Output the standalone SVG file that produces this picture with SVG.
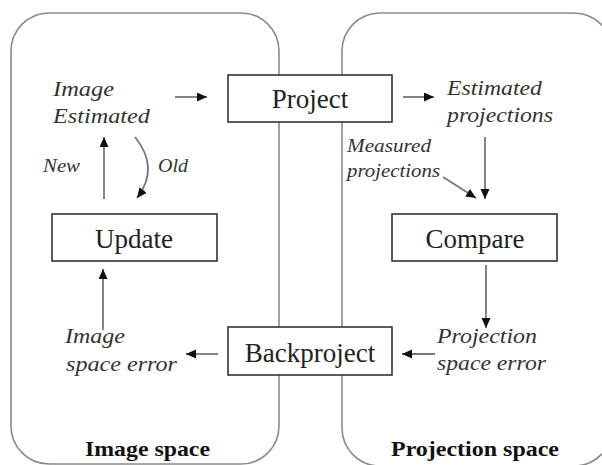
<svg xmlns="http://www.w3.org/2000/svg" width="602" height="465" viewBox="0 0 602 465">
  <defs>
    <marker id="ah" markerUnits="userSpaceOnUse" markerWidth="12" markerHeight="10" refX="10" refY="4.5" orient="auto">
      <path d="M0,0 L10,4.5 L0,9 Z" fill="#111"/>
    </marker>
    <style>
      .region { fill: none; stroke: #8a8a8a; stroke-width: 1.6; }
      .box rect { fill: #fff; stroke: #333; stroke-width: 1.6; }
      .box text { font-family: "Liberation Serif", "Times New Roman", serif; font-size: 27px; fill: #222; text-anchor: middle; }
      .lbl { font-family: "Liberation Serif", "Times New Roman", serif; font-style: italic; font-size: 22px; fill: #333; }
      .sm { font-family: "Liberation Serif", "Times New Roman", serif; font-style: italic; font-size: 18px; fill: #333; }
      .title { font-family: "Liberation Serif", "Times New Roman", serif; font-weight: bold; font-size: 22px; fill: #111; }
      .conn line, .conn path { fill: none; stroke: #777; stroke-width: 1.8; marker-end: url(#ah); }
    </style>
  </defs>
  <rect width="602" height="465" fill="#fff"/>

  <g id="image-space">
    <rect class="region" x="11" y="13" width="268" height="451" rx="38" ry="38"/>
    <text class="title" x="85" y="456" textLength="125" lengthAdjust="spacingAndGlyphs">Image space</text>
  </g>
  <g id="projection-space">
    <rect class="region" x="342" y="13" width="270" height="453" rx="38" ry="38"/>
    <text class="title" x="391" y="456" textLength="168" lengthAdjust="spacingAndGlyphs">Projection space</text>
  </g>

  <g id="connectors" class="conn">
    <line x1="175" y1="97" x2="207" y2="97"/>
    <line x1="403" y1="97" x2="434" y2="97"/>
    <line x1="485" y1="137" x2="485" y2="199"/>
    <line x1="443" y1="177" x2="476" y2="198"/>
    <line x1="486" y1="265" x2="486" y2="328"/>
    <line x1="435" y1="354" x2="402" y2="354"/>
    <line x1="218" y1="354" x2="186" y2="354"/>
    <line x1="103" y1="330" x2="103" y2="269"/>
    <line x1="104" y1="199" x2="104" y2="137"/>
    <path d="M135,137 Q160,168 137,198"/>
  </g>

  <g id="project" class="box">
    <rect x="228" y="75" width="164" height="47"/>
    <text x="310" y="108">Project</text>
  </g>
  <g id="update" class="box">
    <rect x="52" y="214" width="165" height="47"/>
    <text x="134" y="248">Update</text>
  </g>
  <g id="compare" class="box">
    <rect x="392" y="214" width="165" height="47"/>
    <text x="475" y="248">Compare</text>
  </g>
  <g id="backproject" class="box">
    <rect x="228" y="327" width="164" height="48"/>
    <text x="310" y="362">Backproject</text>
  </g>

  <g id="image-estimated">
    <text class="lbl" x="53" y="96" textLength="61" lengthAdjust="spacingAndGlyphs">Image</text>
    <text class="lbl" x="53" y="123" textLength="97" lengthAdjust="spacingAndGlyphs">Estimated</text>
  </g>
  <g id="new-label">
    <text class="sm" x="43" y="172" textLength="37" lengthAdjust="spacingAndGlyphs">New</text>
  </g>
  <g id="old-label">
    <text class="sm" x="158" y="172" textLength="30" lengthAdjust="spacingAndGlyphs">Old</text>
  </g>
  <g id="estimated-projections">
    <text class="lbl" x="447" y="95" textLength="95" lengthAdjust="spacingAndGlyphs">Estimated</text>
    <text class="lbl" x="447" y="122" textLength="106" lengthAdjust="spacingAndGlyphs">projections</text>
  </g>
  <g id="measured-projections">
    <text class="sm" x="347" y="152" textLength="84" lengthAdjust="spacingAndGlyphs">Measured</text>
    <text class="sm" x="347" y="177" textLength="93" lengthAdjust="spacingAndGlyphs">projections</text>
  </g>
  <g id="projection-space-error">
    <text class="lbl" x="437" y="343" textLength="100" lengthAdjust="spacingAndGlyphs">Projection</text>
    <text class="lbl" x="437" y="370" textLength="109" lengthAdjust="spacingAndGlyphs">space error</text>
  </g>
  <g id="image-space-error">
    <text class="lbl" x="65" y="343" textLength="60" lengthAdjust="spacingAndGlyphs">Image</text>
    <text class="lbl" x="66" y="371" textLength="111" lengthAdjust="spacingAndGlyphs">space error</text>
  </g>
</svg>
